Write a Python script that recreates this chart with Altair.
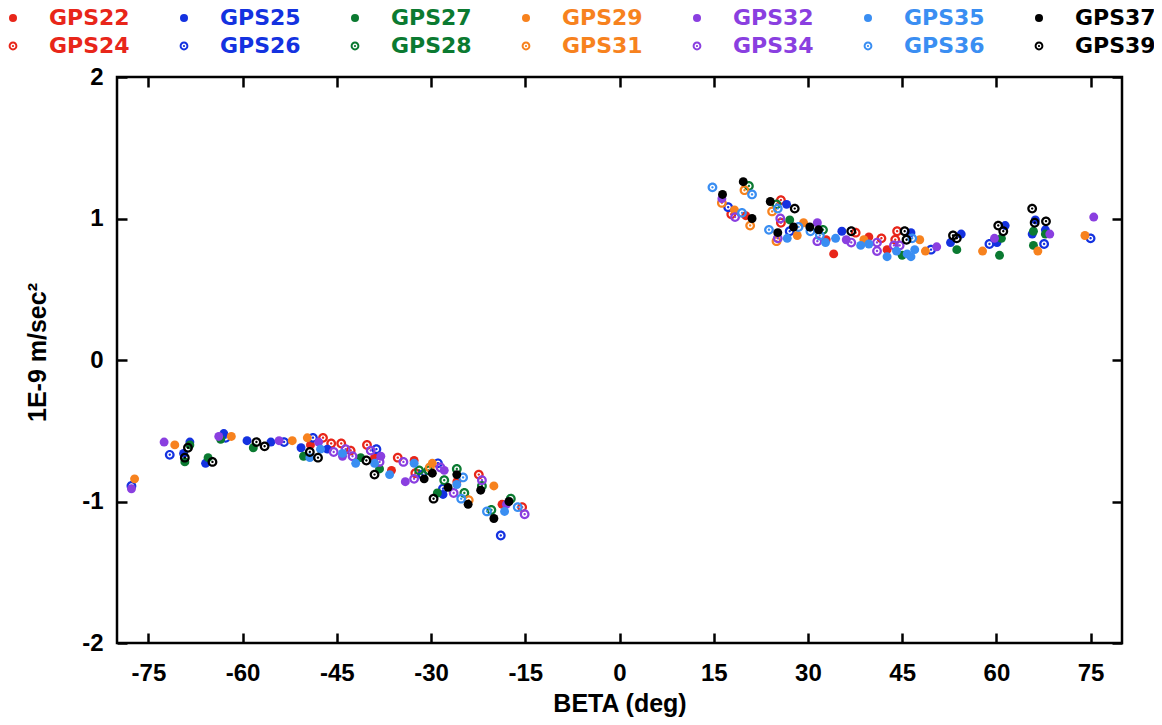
import altair as alt
import pandas as pd

# ---- data (beta in deg, value in 1E-9 m/sec^2) ----
GPS22_beta = [-49.2, -39.0, -36.3, -32.7, -25.9, -18.7, 20.1, 32.9, 39.7, 34.1, 42.6]
GPS22_val = [-0.60, -0.69, -0.78, -0.71, -0.86, -1.02, 1.02, 0.85, 0.87, 0.75, 0.78]

GPS24_beta = [-47.2, -45.9, -44.3, -42.8, -40.2, -35.3, -32.5, -22.4, -15.5, 17.8, 25.7, 25.7, 37.6, 41.7, 44.2, 43.9]
GPS24_val = [-0.55, -0.59, -0.59, -0.64, -0.60, -0.69, -0.80, -0.81, -1.04, 1.03, 1.13, 0.97, 0.90, 0.86, 0.91, 0.85]

GPS25_beta = [-69.4, -68.4, -65.9, -63.0, -59.3, -55.5, -50.7, -46.5, -28.1, 26.6, 35.4, 46.4, 52.7, 54.4, 60.1, 61.4, 66.2, 65.7, 67.8]
GPS25_val = [-0.66, -0.58, -0.73, -0.52, -0.57, -0.58, -0.62, -0.63, -0.95, 1.10, 0.91, 0.90, 0.83, 0.89, 0.83, 0.95, 0.99, 0.89, 0.92]

GPS26_beta = [-77.7, -71.6, -62.7, -53.4, -48.8, -38.7, -31.4, -28.9, -28.1, -18.9, 17.3, 27.1, 49.6, 58.9, 67.6, 75.0]
GPS26_val = [-0.89, -0.67, -0.55, -0.58, -0.55, -0.63, -0.81, -0.73, -0.91, -1.24, 1.08, 0.91, 0.78, 0.82, 0.82, 0.86]

GPS27_beta = [-69.2, -68.4, -65.5, -63.5, -58.3, -50.3, -41.2, -38.2, -29.0, 27.1, 45.0, 53.7, 60.5, 60.8, 65.9, 65.9, 67.8]
GPS27_val = [-0.72, -0.60, -0.69, -0.56, -0.62, -0.68, -0.69, -0.77, -0.94, 0.99, 0.74, 0.78, 0.74, 0.86, 0.91, 0.81, 0.89]

GPS28_beta = [-31.9, -30.4, -27.9, -25.9, -24.7, -21.9, -20.4, -17.3, 20.6, 25.0, 32.4]
GPS28_val = [-0.78, -0.78, -0.85, -0.77, -0.94, -0.89, -1.06, -0.98, 1.23, 1.10, 0.92]

GPS29_beta = [-77.2, -70.8, -61.8, -52.1, -49.7, -29.8, -20.0, 18.3, 29.3, 28.3, 38.9, 47.8, 48.7, 57.8, 66.6, 74.1]
GPS29_val = [-0.84, -0.60, -0.54, -0.57, -0.55, -0.73, -0.89, 1.06, 0.97, 0.88, 0.85, 0.85, 0.77, 0.77, 0.77, 0.88]

GPS31_beta = [-30.2, -24.0, 16.3, 19.9, 20.8, 24.3, 25.0]
GPS31_val = [-0.76, -0.99, 1.11, 1.20, 0.95, 1.05, 0.84]

GPS32_beta = [-77.7, -72.5, -63.8, -54.2, -47.9, -44.1, -38.0, -34.1, -27.9, -18.0, 16.3, 31.5, 36.1, 50.5, 59.7, 68.5, 75.5]
GPS32_val = [-0.91, -0.58, -0.54, -0.57, -0.58, -0.68, -0.68, -0.86, -0.78, -1.02, 1.14, 0.97, 0.85, 0.80, 0.86, 0.89, 1.01]

GPS34_beta = [-45.5, -43.6, -42.5, -39.6, -38.2, -34.4, -32.7, -28.5, -26.4, -21.9, -15.1, 18.4, 25.6, 25.2, 31.5, 36.9, 41.0, 41.0, 43.7, 44.6]
GPS34_val = [-0.65, -0.63, -0.68, -0.64, -0.72, -0.72, -0.84, -0.76, -0.94, -0.85, -1.09, 1.01, 1.00, 0.86, 0.84, 0.83, 0.83, 0.77, 0.81, 0.81]

GPS35_beta = [-49.3, -47.6, -44.1, -42.0, -39.0, -36.6, -32.7, -25.9, -18.3, 26.7, 32.8, 34.4, 38.4, 39.7, 42.6, 44.1, 45.8, 46.4, 47.0]
GPS35_val = [-0.69, -0.63, -0.66, -0.73, -0.73, -0.81, -0.73, -0.88, -1.07, 0.86, 0.83, 0.86, 0.81, 0.82, 0.73, 0.77, 0.75, 0.73, 0.78]

GPS36_beta = [-24.9, -25.2, -21.1, -16.2, 14.8, 21.1, 19.5, 25.2, 23.8, 28.5, 30.4, 31.9, 46.6]
GPS36_val = [-0.83, -0.98, -1.07, -1.04, 1.22, 1.17, 1.04, 1.07, 0.92, 0.94, 0.91, 0.88, 0.86]

GPS37_beta = [-31.1, -29.8, -27.3, -25.9, -24.1, -22.1, -20.0, -17.6, 19.7, 16.4, 21.1, 24.0, 25.2, 27.7, 30.3, 31.7]
GPS37_val = [-0.84, -0.80, -0.90, -0.81, -1.02, -0.92, -1.12, -1.00, 1.26, 1.17, 1.00, 1.12, 0.90, 0.94, 0.94, 0.92]

GPS39_beta = [-68.7, -69.2, -64.8, -57.8, -56.5, -49.3, -48.0, -40.3, -39.0, -29.6, 27.9, 36.9, 45.4, 45.7, 53.1, 53.7, 60.3, 61.1, 65.7, 66.1, 67.9]
GPS39_val = [-0.62, -0.69, -0.72, -0.58, -0.61, -0.65, -0.69, -0.71, -0.81, -0.98, 1.07, 0.91, 0.91, 0.85, 0.88, 0.86, 0.95, 0.91, 1.07, 0.97, 0.98]

# draw order (later on top)
series = {
    "GPS22": (GPS22_beta, GPS22_val), "GPS24": (GPS24_beta, GPS24_val),
    "GPS25": (GPS25_beta, GPS25_val), "GPS26": (GPS26_beta, GPS26_val),
    "GPS27": (GPS27_beta, GPS27_val), "GPS28": (GPS28_beta, GPS28_val),
    "GPS29": (GPS29_beta, GPS29_val), "GPS31": (GPS31_beta, GPS31_val),
    "GPS32": (GPS32_beta, GPS32_val), "GPS34": (GPS34_beta, GPS34_val),
    "GPS35": (GPS35_beta, GPS35_val), "GPS36": (GPS36_beta, GPS36_val),
    "GPS37": (GPS37_beta, GPS37_val), "GPS39": (GPS39_beta, GPS39_val),
}

# legend order: row 1 = filled, row 2 = open
legend_order = ["GPS22", "GPS25", "GPS27", "GPS29", "GPS32", "GPS35", "GPS37",
                "GPS24", "GPS26", "GPS28", "GPS31", "GPS34", "GPS36", "GPS39"]
legend_colors = ["#e8261a", "#1432e0", "#0b7a31", "#f7821e", "#8a3fe0", "#3a8ef2", "#000000"] * 2

RING = ("M1.1,0A1.1,1.1,0,1,1,-1.1,0A1.1,1.1,0,1,1,1.1,0Z"
        "M0.6,0A0.6,0.6,0,1,0,-0.6,0A0.6,0.6,0,1,0,0.6,0Z"
        "M0.27,0A0.27,0.27,0,1,1,-0.27,0A0.27,0.27,0,1,1,0.27,0Z")
legend_shapes = ["circle"] * 7 + [RING] * 7

rows = []
for i, (name, (b, v)) in enumerate(series.items()):
    for bb, vv in zip(b, v):
        rows.append({"sat": name, "beta": bb, "accel": vv, "ord": i})
df = pd.DataFrame(rows)

x_ticks = [-75, -60, -45, -30, -15, 0, 15, 30, 45, 60, 75]
y_ticks = [-2, -1, 0, 1, 2]

W, H = 1005, 566
FONT = "Liberation Sans"
xs = alt.Scale(domain=[-80, 80], nice=False, zero=False)
ys = alt.Scale(domain=[-2, 2], nice=False, zero=False)

leg = alt.Legend(
    title=None, orient="none", legendX=-115, legendY=-70, columns=7,
    direction="horizontal", symbolSize=64, symbolStrokeWidth=0,
    labelFont="DejaVu Sans", labelFontSize=22, labelFontWeight="bold",
    labelOffset=25, columnPadding=43, rowPadding=6, gridAlign="all",
    labelLimit=300, padding=0,
    labelColor={"expr": "scale('color', datum.value)"},
)

points = alt.Chart(df).mark_point(filled=True, size=80, opacity=1, strokeWidth=0).encode(
    x=alt.X("beta:Q", scale=xs, axis=alt.Axis(
        title="BETA (deg)", values=x_ticks, ticks=False, tickSize=0, domain=False, grid=False,
        labelFont=FONT, labelFontSize=24, labelFontWeight="bold", labelPadding=18,
        labelExpr="'' + datum.value", labelColor="black",
        titleFont=FONT, titleFontSize=25, titleFontWeight="bold", titleColor="black",
        titleY=60, titleBaseline="middle")),
    y=alt.Y("accel:Q", scale=ys, axis=alt.Axis(
        title="1E-9 m/sec²", values=y_ticks, ticks=False, tickSize=0, domain=False, grid=False,
        labelFont=FONT, labelFontSize=24, labelFontWeight="bold", labelPadding=14,
        labelExpr="'' + datum.value", labelColor="black",
        titleFont=FONT, titleFontSize=25, titleFontWeight="bold", titleColor="black",
        titleX=-80, titleY=275, titleBaseline="middle", titleAngle=270)),
    color=alt.Color("sat:N", scale=alt.Scale(domain=legend_order, range=legend_colors), legend=leg),
    shape=alt.Shape("sat:N", scale=alt.Scale(domain=legend_order, range=legend_shapes), legend=leg),
    order=alt.Order("ord:Q"),
)

def tick_layer(x_orient, y_orient):
    return alt.Chart(df).mark_point(opacity=0).encode(
        x=alt.X("beta:Q", scale=xs, axis=alt.Axis(
            orient=x_orient, offset=-H, values=x_ticks, labels=False, title=None,
            domain=False, grid=False, ticks=True, tickSize=10, tickWidth=2.5, tickColor="black")),
        y=alt.Y("accel:Q", scale=ys, axis=alt.Axis(
            orient=y_orient, offset=-W, values=y_ticks, labels=False, title=None,
            domain=False, grid=False, ticks=True, tickSize=10, tickWidth=2.5, tickColor="black")),
    )

chart = alt.layer(points, tick_layer("top", "right"), tick_layer("bottom", "left")).resolve_scale(
    x="independent", y="independent"
).properties(
    width=W, height=H,
    autosize=alt.AutoSizeParams(type="none"),
    padding={"left": 109, "top": 69, "right": 32, "bottom": 74},
    background="white",
).configure_view(stroke="black", strokeWidth=2.5)

chart.save("out.html", embed_options={"renderer": "svg", "actions": False})
